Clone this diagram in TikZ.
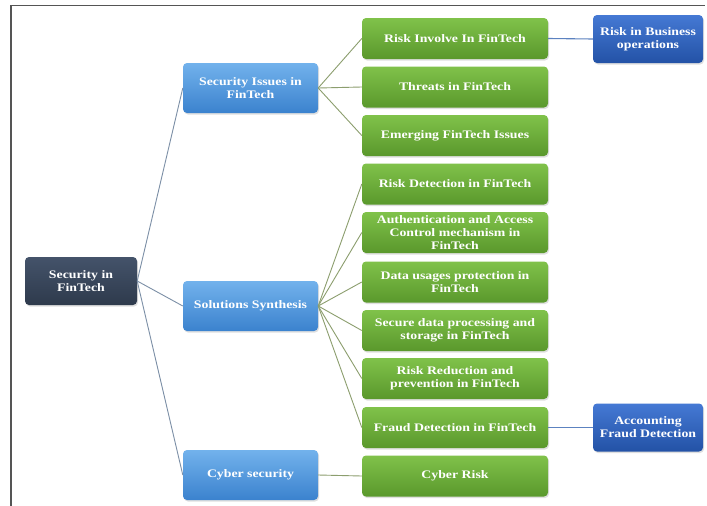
\documentclass[tikz,border=0pt]{standalone}
\usepackage{fontspec}
\setmainfont[FakeStretch=1.2]{Liberation Serif}
\usetikzlibrary{shadows}

\definecolor{rootTop}{HTML}{44536A}
\definecolor{rootBot}{HTML}{2E3A4C}
\definecolor{midTop}{HTML}{72B2EC}
\definecolor{midBot}{HTML}{3B82CE}
\definecolor{leafTop}{HTML}{80C24A}
\definecolor{leafBot}{HTML}{5A982C}
\definecolor{farTop}{HTML}{4579D4}
\definecolor{farBot}{HTML}{2352A6}
\definecolor{frameCol}{HTML}{555555}
\definecolor{rootLink}{HTML}{7C8FA6}
\definecolor{leafLink}{HTML}{8C9E6E}
\definecolor{farLink}{HTML}{5C82C0}

\tikzset{
  box/.style={rounded corners=4pt, inner sep=0pt, align=center, text=white,
    font=\fontsize{11.5}{13}\selectfont\bfseries,
    drop shadow={opacity=0.25, shadow xshift=1pt, shadow yshift=-1.5pt}},
  rootbox/.style={box, top color=rootTop, bottom color=rootBot,
    minimum width=112pt, minimum height=48pt},
  midbox/.style={box, top color=midTop, bottom color=midBot,
    minimum width=135pt, minimum height=50pt},
  leafbox/.style={box, top color=leafTop, bottom color=leafBot,
    minimum width=186pt, minimum height=41pt},
  farbox/.style={box, top color=farTop, bottom color=farBot,
    minimum width=110pt, minimum height=48pt},
  rootedge/.style={draw=rootLink, line width=0.9pt},
  leafedge/.style={draw=leafLink, line width=0.9pt},
  faredge/.style={draw=farLink, line width=1.1pt},
}

\begin{document}
\begin{tikzpicture}[x=1pt, y=-1pt]
  \useasboundingbox (0,0) rectangle (707,506);
  \fill[white] (0,0) rectangle (707,506);

  % page frame
  \coordinate (fb) at (11,506);
  \coordinate (fc) at (11,5.5);
  \coordinate (fr) at (705,5.5);
  \draw[frameCol, line width=1.3pt] (fb) -- (fc) -- (fr);

  % root
  \node[rootbox] (root) at (81,281) {Security in\\FinTech};

  % second level
  \node[midbox] (issues) at (250.5,88) {Security Issues in\\FinTech};
  \node[midbox] (sol) at (250.5,306) {Solutions Synthesis};
  \node[midbox] (cyber) at (250.5,475) {Cyber security};

  % leaves
  \node[leafbox] (risk) at (455,38.5) {Risk Involve In FinTech};
  \node[leafbox] (threat) at (455,87) {Threats in FinTech};
  \node[leafbox] (emerg) at (455,135.5) {Emerging FinTech Issues};
  \node[leafbox] (detect) at (455,184) {Risk Detection in FinTech};
  \node[leafbox] (auth) at (455,232.5) {Authentication and Access\\Control mechanism in\\FinTech};
  \node[leafbox] (data) at (455,282) {Data usages protection in\\FinTech};
  \node[leafbox] (secure) at (455,330.5) {Secure data processing and\\storage in FinTech};
  \node[leafbox] (reduce) at (455,378.5) {Risk Reduction and\\prevention in FinTech};
  \node[leafbox] (fraud) at (455,427.5) {Fraud Detection in FinTech};
  \node[leafbox] (crisk) at (455,476) {Cyber Risk};

  % outer level
  \node[farbox] (biz) at (648,39) {Risk in Business\\operations};
  \node[farbox] (acct) at (648,427.5) {Accounting\\Fraud Detection};

  % connectors
  \draw[rootedge] (root.east) -- (issues.west);
  \draw[rootedge] (root.east) -- (sol.west);
  \draw[rootedge] (root.east) -- (cyber.west);

  \foreach \t in {risk,threat,emerg}
    \draw[leafedge] (issues.east) -- (\t.west);
  \foreach \t in {detect,auth,data,secure,reduce,fraud}
    \draw[leafedge] (sol.east) -- (\t.west);
  \draw[leafedge] (cyber.east) -- (crisk.west);

  \draw[faredge] (risk.east) -- (biz.west);
  \draw[faredge] (fraud.east) -- (acct.west);
\end{tikzpicture}
\end{document}
